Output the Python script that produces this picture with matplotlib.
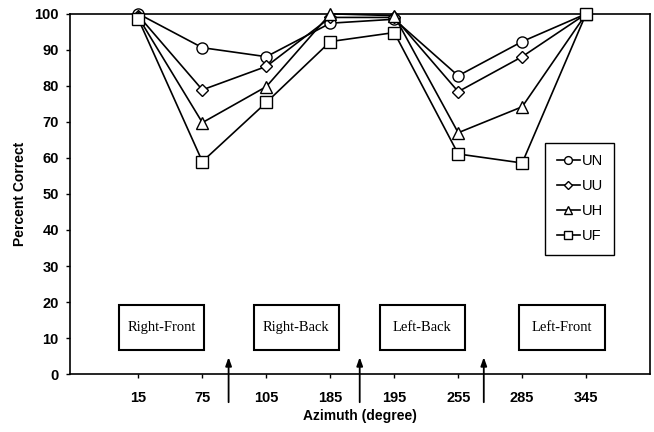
"""Percent correct vs azimuth for four listening conditions."""

import matplotlib
matplotlib.use('Agg')
import matplotlib.pyplot as plt
from matplotlib.patches import Rectangle

# data
azimuth_labels = ['15', '75', '105', '185', '195', '255', '285', '345']
un = [100, 90.6, 88.1, 97.4, 98.5, 82.8, 92.3, 100]
uu = [99.5, 78.9, 85.4, 99.0, 99.0, 78.4, 88.1, 100]
uh = [99.0, 69.8, 79.8, 100, 99.5, 67.0, 74.2, 100]
uf = [98.5, 59.0, 75.4, 92.3, 94.8, 61.1, 58.6, 100]

regions = ['Right-Front', 'Right-Back', 'Left-Back', 'Left-Front']
region_x = [1.36, 3.47, 5.44, 7.62]
arrow_x = [2.41, 4.46, 6.40]

plt.rcParams.update({
    'font.family': ['Liberation Sans', 'DejaVu Sans'],
    'font.size': 10,
})

fig = plt.figure(figsize=(6.54, 4.32), dpi=100)
ax = fig.add_axes([0.107, 0.134, 0.887, 0.834])

x = list(range(1, len(azimuth_labels) + 1))
style = dict(color='black', linewidth=1.2, markerfacecolor='white',
             markeredgecolor='black', markeredgewidth=1.0, clip_on=False,
             zorder=3)
ax.plot(x, un, marker='o', markersize=8, label='UN', **style)
ax.plot(x, uu, marker='D', markersize=6, label='UU', **style)
ax.plot(x, uh, marker='^', markersize=8, label='UH', **style)
ax.plot(x, uf, marker='s', markersize=8.5, label='UF', **style)

ax.set_xlim(-0.07, 9.0)
ax.set_ylim(0, 100)
ax.set_xticks(x)
ax.set_xticklabels(azimuth_labels, fontweight='bold', fontsize=10.5)
ax.set_yticks(range(0, 101, 10))
for lab in ax.get_yticklabels():
    lab.set_fontweight('bold')
    lab.set_fontsize(10.5)
ax.tick_params(axis='y', direction='out', length=3, width=1, pad=5)
ax.tick_params(axis='x', direction='out', length=3, width=1, pad=9)
for s in ax.spines.values():
    s.set_linewidth(1.2)

ax.set_xlabel('Azimuth (degree)', fontweight='bold', labelpad=3)
ax.set_ylabel('Percent Correct', fontweight='bold', labelpad=5)

# region boxes
box_w, box_h, box_y = 1.34, 12.5, 13
for name, cx in zip(regions, region_x):
    ax.add_patch(Rectangle((cx - box_w / 2, box_y - box_h / 2), box_w, box_h,
                           facecolor='white', edgecolor='black',
                           linewidth=1.5, zorder=2))
    ax.text(cx, box_y, name, ha='center', va='center', fontsize=10.5,
            family='Liberation Serif', zorder=4)

# boundary arrows crossing the x axis
for ax_x in arrow_x:
    ax.annotate('', xy=(ax_x, 4.7), xytext=(ax_x, -7.8),
                xycoords='data', annotation_clip=False,
                arrowprops=dict(arrowstyle='-|>,head_length=0.5,head_width=0.18',
                                color='black', lw=1.3, shrinkA=0, shrinkB=0))

leg = ax.legend(loc='upper left', bbox_to_anchor=(0.819, 0.642),
                borderaxespad=0, fancybox=False, edgecolor='black',
                framealpha=1, fontsize=10.5, handlelength=1.6,
                handletextpad=0.1, labelspacing=0.75, borderpad=0.8,
                markerscale=0.7)
leg.get_frame().set_linewidth(1.0)

fig.savefig('out.png', dpi=100)
